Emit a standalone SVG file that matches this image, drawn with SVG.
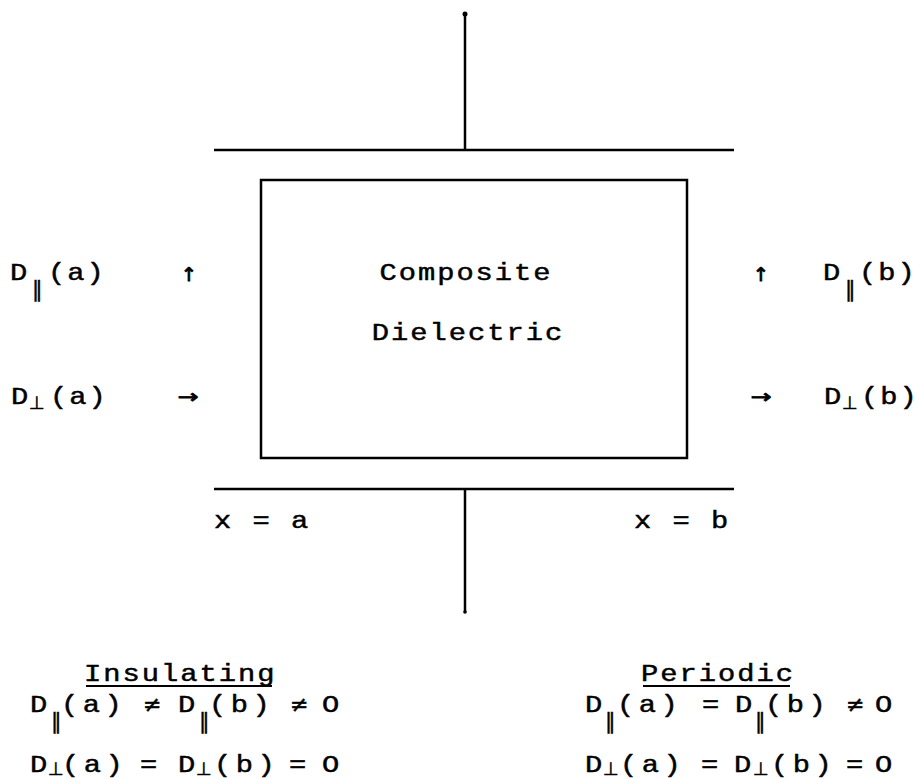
<svg xmlns="http://www.w3.org/2000/svg" width="919" height="779" viewBox="0 0 919 779">
<style>
.t{font-family:"Liberation Mono","DejaVu Sans Mono",monospace;font-size:23px;letter-spacing:1.6px;fill:#000;stroke:#000;stroke-width:0.45}
.p{font-family:"Liberation Mono","DejaVu Sans Mono",monospace;font-size:23px;letter-spacing:3.6px;fill:#000;stroke:#000;stroke-width:0.45}
.s{font-family:"DejaVu Sans",sans-serif;font-size:21px;fill:#000;stroke:#000;stroke-width:0.4}
.sp{font-family:"DejaVu Sans",sans-serif;font-size:18px;fill:#000;stroke:#000;stroke-width:0.5}
.ne{font-family:"DejaVu Sans",sans-serif;font-size:22px;fill:#000;stroke:#000;stroke-width:0.5}
.ar{font-family:"DejaVu Sans",sans-serif;font-size:19px;fill:#000;stroke:#000;stroke-width:0.9;text-anchor:middle}
.ln{stroke:#000;stroke-width:2.5;fill:none}
</style>
<g id="connectors">
<line class="ln" x1="465" y1="14" x2="465" y2="150"/>
<circle cx="465" cy="14" r="2.5"/>
<line class="ln" x1="214" y1="150" x2="734" y2="150"/>
<line class="ln" x1="214" y1="489" x2="734" y2="489"/>
<line class="ln" x1="465" y1="489" x2="465" y2="612"/>
<circle cx="465" cy="612" r="1.8"/>
</g>
<g id="box">
<rect class="ln" x="261" y="180" width="426" height="278"/>
<text class="t" transform="translate(466,280) scale(1.25,1)" text-anchor="middle">Composite</text>
<text class="t" transform="translate(468,340) scale(1.25,1)" text-anchor="middle">Dielectric</text>
</g>
<g id="left-labels">
<text class="t" transform="translate(10,280) scale(1.25,1)">D</text><text class="s" x="32" y="296">‖</text><text class="t" transform="translate(48,280) scale(1.25,1)">(a)</text>
<text class="ar" x="189" y="281">↑</text>
<text class="t" transform="translate(11,404) scale(1.25,1)">D</text><text class="sp" x="29" y="409">⊥</text><text class="t" transform="translate(50,404) scale(1.25,1)">(a)</text>
<text class="ar" transform="translate(188,403) scale(1.3,1)">→</text>
</g>
<g id="right-labels">
<text class="ar" x="761" y="281">↑</text>
<text class="t" transform="translate(823,280) scale(1.25,1)">D</text><text class="s" x="845" y="296">‖</text><text class="t" transform="translate(859,280) scale(1.25,1)">(b)</text>
<text class="ar" transform="translate(761,403) scale(1.3,1)">→</text>
<text class="t" transform="translate(824,404) scale(1.25,1)">D</text><text class="sp" x="842" y="409">⊥</text><text class="t" transform="translate(861,404) scale(1.25,1)">(b)</text>
</g>
<g id="positions">
<text class="t" transform="translate(214,528) scale(1.25,1)">x = a</text>
<text class="t" transform="translate(634,528) scale(1.25,1)">x = b</text>
</g>
<g id="insulating">
<text class="t" transform="translate(84,681) scale(1.25,1)">Insulating</text>
<line class="ln" x1="86" y1="686" x2="272" y2="686" style="stroke-width:2"/>
<text class="t" transform="translate(30,712) scale(1.25,1)">D</text><text class="s" x="51" y="728">‖</text><text class="p" transform="translate(61,712) scale(1.25,1)">(a)</text>
<text class="ne" x="143" y="712">≠</text>
<text class="t" transform="translate(178,712) scale(1.25,1)">D</text><text class="s" x="199" y="728">‖</text><text class="p" transform="translate(209,712) scale(1.25,1)">(b)</text>
<text class="ne" x="290" y="712">≠</text>
<text class="t" transform="translate(322,712) scale(1.25,1)">O</text>
<text class="t" transform="translate(30,772) scale(1.25,1)">D</text><text class="sp" x="48" y="775">⊥</text><text class="p" transform="translate(62,772) scale(1.25,1)">(a)</text>
<text class="t" transform="translate(140,772) scale(1.25,1)">=</text>
<text class="t" transform="translate(178,772) scale(1.25,1)">D</text><text class="sp" x="196" y="775">⊥</text><text class="p" transform="translate(214,772) scale(1.25,1)">(b)</text>
<text class="t" transform="translate(289,772) scale(1.25,1)">=</text>
<text class="t" transform="translate(322,772) scale(1.25,1)">O</text>
</g>
<g id="periodic">
<text class="t" transform="translate(641,681) scale(1.25,1)">Periodic</text>
<line class="ln" x1="643" y1="686" x2="790" y2="686" style="stroke-width:2"/>
<text class="t" transform="translate(585,712) scale(1.25,1)">D</text><text class="s" x="605" y="728">‖</text><text class="p" transform="translate(617,712) scale(1.25,1)">(a)</text>
<text class="t" transform="translate(702,712) scale(1.25,1)">=</text>
<text class="t" transform="translate(735,712) scale(1.25,1)">D</text><text class="s" x="755" y="728">‖</text><text class="p" transform="translate(765,712) scale(1.25,1)">(b)</text>
<text class="ne" x="846" y="712">≠</text>
<text class="t" transform="translate(875,712) scale(1.25,1)">O</text>
<text class="t" transform="translate(585,772) scale(1.25,1)">D</text><text class="sp" x="603" y="775">⊥</text><text class="p" transform="translate(620,772) scale(1.25,1)">(a)</text>
<text class="t" transform="translate(701,772) scale(1.25,1)">=</text>
<text class="t" transform="translate(734,772) scale(1.25,1)">D</text><text class="sp" x="753" y="775">⊥</text><text class="p" transform="translate(771,772) scale(1.25,1)">(b)</text>
<text class="t" transform="translate(846,772) scale(1.25,1)">=</text>
<text class="t" transform="translate(875,772) scale(1.25,1)">O</text>
</g>
</svg>
